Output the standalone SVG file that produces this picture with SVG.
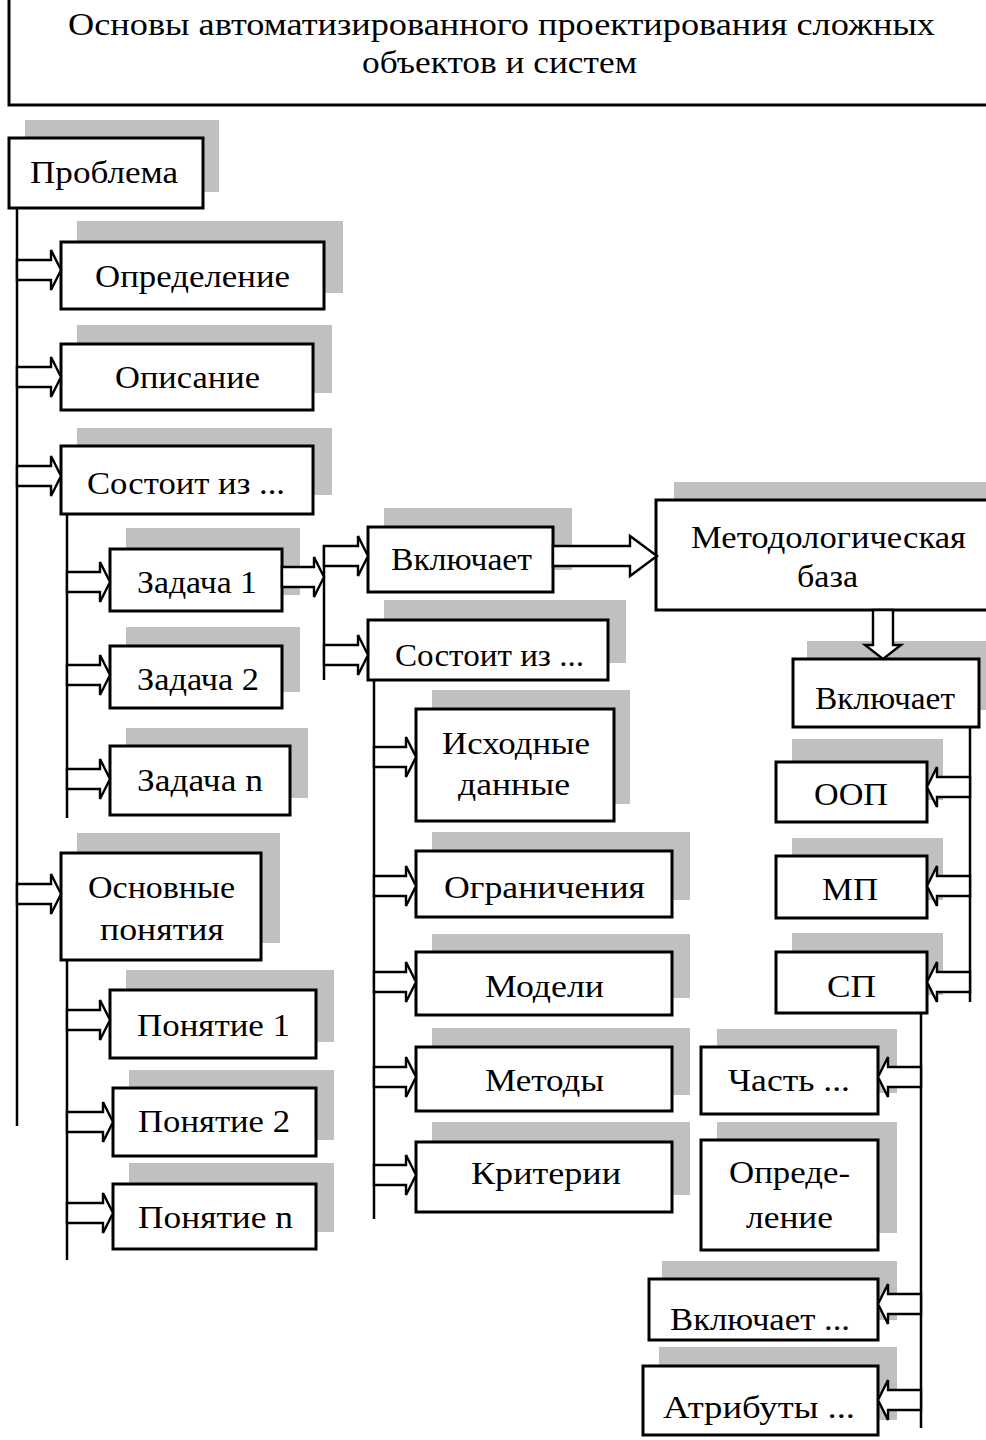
<svg xmlns="http://www.w3.org/2000/svg" width="986" height="1440" viewBox="0 0 986 1440">
<style>
.sh{fill:#c0c0c0}
.bx{fill:#fff;stroke:#000;stroke-width:3}
.t{font-family:"Liberation Serif","DejaVu Serif",serif;font-size:31px;fill:#000}
.tt{font-family:"Liberation Serif","DejaVu Serif",serif;font-size:32px;fill:#000}
.ln{stroke:#000;stroke-width:2.5;fill:none}
.ar{fill:#fff;stroke:#000;stroke-width:2.4;stroke-linejoin:miter}
</style>
<rect width="986" height="1440" fill="#fff"/>
<g id="title">
<rect class="bx" x="9" y="-10" width="990" height="115"/>
<text class="tt" x="68" y="35" textLength="867" lengthAdjust="spacingAndGlyphs">Основы автоматизированного проектирования сложных</text>
<text class="tt" x="362" y="73" textLength="275" lengthAdjust="spacingAndGlyphs">объектов и систем</text>
</g>
<g id="problema"><rect class="sh" x="25" y="120" width="194" height="72"/><rect class="bx" x="9" y="138" width="194" height="70"/><text class="t" x="30" y="183" textLength="148" lengthAdjust="spacingAndGlyphs">Проблема</text></g>
<g id="opredelenie"><rect class="sh" x="77" y="221" width="266" height="72"/><rect class="bx" x="61" y="242" width="263" height="67"/><text class="t" x="95" y="287" textLength="195" lengthAdjust="spacingAndGlyphs">Определение</text></g>
<g id="opisanie"><rect class="sh" x="77" y="325" width="255" height="68"/><rect class="bx" x="61" y="344" width="252" height="66"/><text class="t" x="115" y="388" textLength="145" lengthAdjust="spacingAndGlyphs">Описание</text></g>
<g id="sostoit1"><rect class="sh" x="77" y="428" width="255" height="67"/><rect class="bx" x="61" y="446" width="252" height="68"/><text class="t" x="87" y="494" textLength="198" lengthAdjust="spacingAndGlyphs">Состоит из ...</text></g>
<g id="zadacha1"><rect class="sh" x="126" y="528" width="174" height="67"/><rect class="bx" x="110" y="549" width="172" height="62"/><text class="t" x="137" y="593" textLength="120" lengthAdjust="spacingAndGlyphs">Задача 1</text></g>
<g id="zadacha2"><rect class="sh" x="126" y="627" width="174" height="65"/><rect class="bx" x="110" y="646" width="172" height="62"/><text class="t" x="137" y="690" textLength="122" lengthAdjust="spacingAndGlyphs">Задача 2</text></g>
<g id="zadachan"><rect class="sh" x="126" y="728" width="182" height="70"/><rect class="bx" x="110" y="746" width="180" height="69"/><text class="t" x="137" y="791" textLength="126" lengthAdjust="spacingAndGlyphs">Задача n</text></g>
<g id="osnovnye"><rect class="sh" x="77" y="833" width="203" height="110"/><rect class="bx" x="61" y="853" width="200" height="107"/><text class="t" x="88" y="898" textLength="147" lengthAdjust="spacingAndGlyphs">Основные</text><text class="t" x="100" y="940" textLength="124" lengthAdjust="spacingAndGlyphs">понятия</text></g>
<g id="ponyatie1"><rect class="sh" x="126" y="970" width="208" height="72"/><rect class="bx" x="110" y="990" width="206" height="68"/><text class="t" x="137" y="1036" textLength="153" lengthAdjust="spacingAndGlyphs">Понятие 1</text></g>
<g id="ponyatie2"><rect class="sh" x="129" y="1070" width="205" height="70"/><rect class="bx" x="113" y="1088" width="203" height="68"/><text class="t" x="138" y="1132" textLength="152" lengthAdjust="spacingAndGlyphs">Понятие 2</text></g>
<g id="ponyatien"><rect class="sh" x="129" y="1163" width="205" height="69"/><rect class="bx" x="113" y="1184" width="203" height="65"/><text class="t" x="138" y="1228" textLength="155" lengthAdjust="spacingAndGlyphs">Понятие n</text></g>
<g id="vklyuchaet1"><rect class="sh" x="384" y="508" width="188" height="62"/><rect class="bx" x="368" y="527" width="185" height="65"/><text class="t" x="391" y="570" textLength="141" lengthAdjust="spacingAndGlyphs">Включает</text></g>
<g id="sostoit2"><rect class="sh" x="384" y="600" width="242" height="63"/><rect class="bx" x="368" y="620" width="240" height="60"/><text class="t" x="395" y="666" textLength="189" lengthAdjust="spacingAndGlyphs">Состоит из ...</text></g>
<g id="iskhodnye"><rect class="sh" x="432" y="690" width="198" height="114"/><rect class="bx" x="416" y="709" width="198" height="112"/><text class="t" x="442" y="754" textLength="148" lengthAdjust="spacingAndGlyphs">Исходные</text><text class="t" x="458" y="795" textLength="112" lengthAdjust="spacingAndGlyphs">данные</text></g>
<g id="ogranicheniya"><rect class="sh" x="432" y="832" width="258" height="68"/><rect class="bx" x="416" y="851" width="256" height="66"/><text class="t" x="444" y="898" textLength="201" lengthAdjust="spacingAndGlyphs">Ограничения</text></g>
<g id="modeli"><rect class="sh" x="432" y="934" width="258" height="64"/><rect class="bx" x="416" y="952" width="256" height="63"/><text class="t" x="485" y="997" textLength="119" lengthAdjust="spacingAndGlyphs">Модели</text></g>
<g id="metody"><rect class="sh" x="432" y="1028" width="258" height="67"/><rect class="bx" x="416" y="1047" width="256" height="64"/><text class="t" x="485" y="1091" textLength="119" lengthAdjust="spacingAndGlyphs">Методы</text></g>
<g id="kriterii"><rect class="sh" x="432" y="1122" width="258" height="73"/><rect class="bx" x="416" y="1142" width="256" height="70"/><text class="t" x="471" y="1184" textLength="150" lengthAdjust="spacingAndGlyphs">Критерии</text></g>
<g id="metodbaza"><rect class="sh" x="674" y="482" width="320" height="110"/><rect class="bx" x="656" y="500" width="340" height="110"/><text class="t" x="691" y="548" textLength="275" lengthAdjust="spacingAndGlyphs">Методологическая</text><text class="t" x="797" y="587" textLength="61" lengthAdjust="spacingAndGlyphs">база</text></g>
<g id="vklyuchaet2"><rect class="sh" x="807" y="641" width="185" height="69"/><rect class="bx" x="793" y="659" width="186" height="68"/><text class="t" x="815" y="709" textLength="140" lengthAdjust="spacingAndGlyphs">Включает</text></g>
<g id="oop"><rect class="sh" x="792" y="739" width="151" height="61"/><rect class="bx" x="776" y="762" width="151" height="60"/><text class="t" x="814" y="805" textLength="74" lengthAdjust="spacingAndGlyphs">ООП</text></g>
<g id="mp"><rect class="sh" x="792" y="838" width="151" height="62"/><rect class="bx" x="776" y="856" width="151" height="62"/><text class="t" x="822" y="900" textLength="56" lengthAdjust="spacingAndGlyphs">МП</text></g>
<g id="sp"><rect class="sh" x="792" y="933" width="151" height="62"/><rect class="bx" x="776" y="952" width="151" height="61"/><text class="t" x="827" y="997" textLength="49" lengthAdjust="spacingAndGlyphs">СП</text></g>
<g id="chast"><rect class="sh" x="717" y="1029" width="180" height="64"/><rect class="bx" x="701" y="1047" width="177" height="67"/><text class="t" x="728" y="1091" textLength="122" lengthAdjust="spacingAndGlyphs">Часть ...</text></g>
<g id="opredelenie2"><rect class="sh" x="717" y="1122" width="180" height="111"/><rect class="bx" x="701" y="1140" width="177" height="110"/><text class="t" x="729" y="1183" textLength="121" lengthAdjust="spacingAndGlyphs">Опреде-</text><text class="t" x="746" y="1228" textLength="87" lengthAdjust="spacingAndGlyphs">ление</text></g>
<g id="vklyuchaet3"><rect class="sh" x="662" y="1261" width="235" height="59"/><rect class="bx" x="649" y="1279" width="229" height="61"/><text class="t" x="670" y="1330" textLength="180" lengthAdjust="spacingAndGlyphs">Включает ...</text></g>
<g id="atributy"><rect class="sh" x="659" y="1347" width="238" height="73"/><rect class="bx" x="643" y="1366" width="235" height="69"/><text class="t" x="663" y="1418" textLength="192" lengthAdjust="spacingAndGlyphs">Атрибуты ...</text></g>
<g id="connectors">
<line class="ln" x1="17" y1="208" x2="17" y2="1126"/>
<line class="ln" x1="67" y1="514" x2="67" y2="818"/>
<line class="ln" x1="67" y1="960" x2="67" y2="1260"/>
<line class="ln" x1="324" y1="545" x2="324" y2="680"/>
<line class="ln" x1="374" y1="680" x2="374" y2="1219"/>
<line class="ln" x1="970" y1="727" x2="970" y2="1002"/>
<line class="ln" x1="921" y1="1013" x2="921" y2="1428"/>
<polygon class="ar" points="17,260 51,260 51,250 61,270 51,290 51,280 17,280"/>
<polygon class="ar" points="17,367 51,367 51,357 61,377 51,397 51,387 17,387"/>
<polygon class="ar" points="17,466 51,466 51,456 61,476 51,496 51,486 17,486"/>
<polygon class="ar" points="17,884 51,884 51,874 61,894 51,914 51,904 17,904"/>
<polygon class="ar" points="67,572 100,572 100,562 110,582 100,602 100,592 67,592"/>
<polygon class="ar" points="67,665 100,665 100,655 110,675 100,695 100,685 67,685"/>
<polygon class="ar" points="67,769 100,769 100,759 110,779 100,799 100,789 67,789"/>
<polygon class="ar" points="67,1010 100,1010 100,1000 110,1020 100,1040 100,1030 67,1030"/>
<polygon class="ar" points="67,1112 103,1112 103,1102 113,1122 103,1142 103,1132 67,1132"/>
<polygon class="ar" points="67,1203 103,1203 103,1193 113,1213 103,1233 103,1223 67,1223"/>
<polygon class="ar" points="282,567 314,567 314,557 324,577 314,597 314,587 282,587"/>
<polygon class="ar" points="324,546 358,546 358,536 368,556 358,576 358,566 324,566"/>
<polygon class="ar" points="324,645 358,645 358,635 368,655 358,675 358,665 324,665"/>
<polygon class="ar" points="374,747 406,747 406,737 416,757 406,777 406,767 374,767"/>
<polygon class="ar" points="374,876 406,876 406,866 416,886 406,906 406,896 374,896"/>
<polygon class="ar" points="374,972 406,972 406,962 416,982 406,1002 406,992 374,992"/>
<polygon class="ar" points="374,1067 406,1067 406,1057 416,1077 406,1097 406,1087 374,1087"/>
<polygon class="ar" points="374,1165 406,1165 406,1155 416,1175 406,1195 406,1185 374,1185"/>
<polygon class="ar" points="553,546 630,546 630,536 657,556 630,576 630,566 553,566"/>
<polygon class="ar" points="873,610 873,645 865,645 883,659 901,645 893,645 893,610"/>
<polygon class="ar" points="970,777 937,777 937,767 927,787 937,807 937,797 970,797"/>
<polygon class="ar" points="970,876 937,876 937,866 927,886 937,906 937,896 970,896"/>
<polygon class="ar" points="970,972 937,972 937,962 927,982 937,1002 937,992 970,992"/>
<polygon class="ar" points="921,1067 888,1067 888,1057 878,1077 888,1097 888,1087 921,1087"/>
<polygon class="ar" points="921,1294 888,1294 888,1284 878,1304 888,1324 888,1314 921,1314"/>
<polygon class="ar" points="921,1390 888,1390 888,1380 878,1400 888,1420 888,1410 921,1410"/>
</g>
</svg>
